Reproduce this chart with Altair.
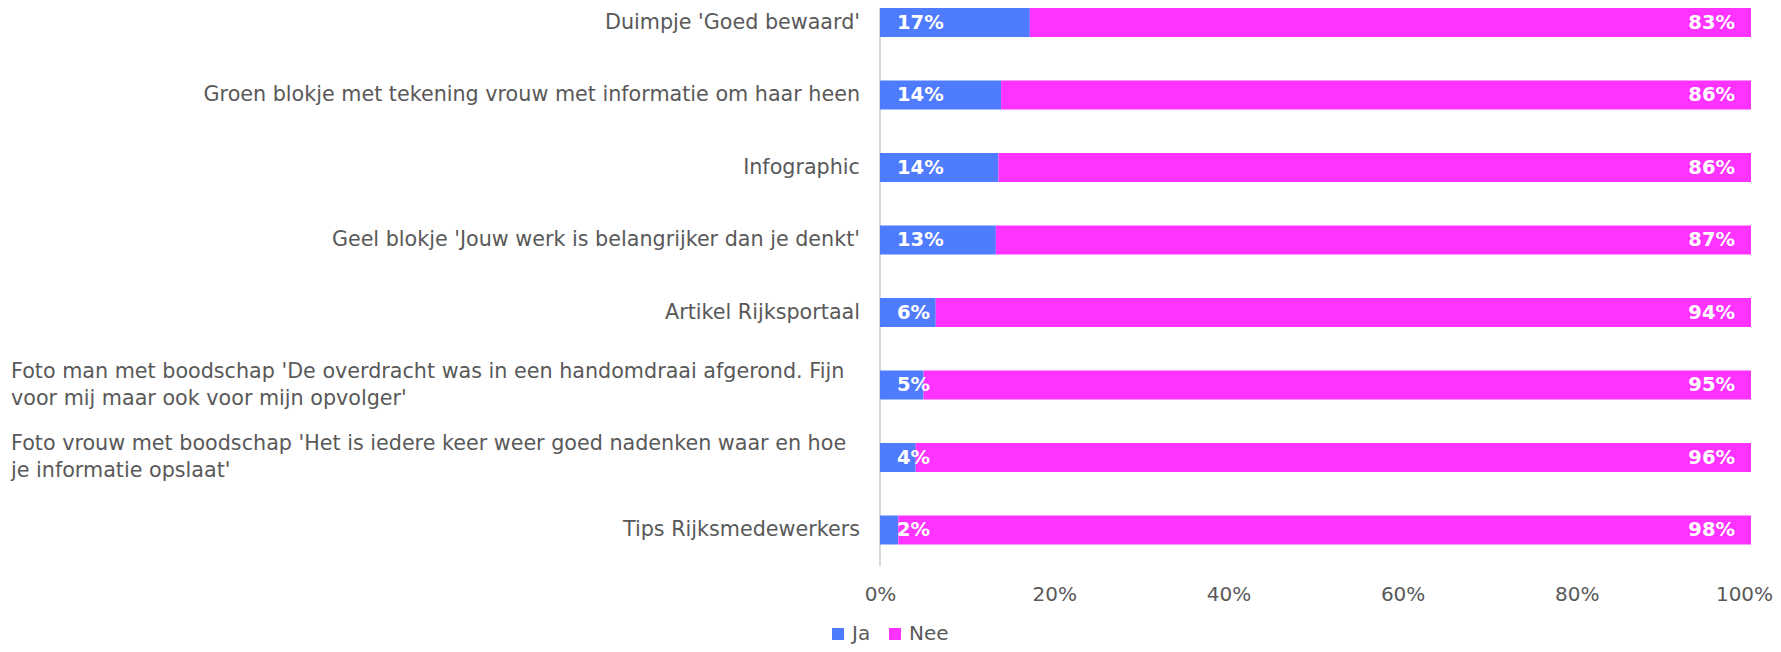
import altair as alt
import pandas as pd

categories = [
    "Duimpje 'Goed bewaard'",
    "Groen blokje met tekening vrouw met informatie om haar heen",
    "Infographic",
    "Geel blokje 'Jouw werk is belangrijker dan je denkt'",
    "Artikel Rijksportaal",
    "Foto man met boodschap 'De overdracht was in een handomdraai afgerond. Fijn|voor mij maar ook voor mijn opvolger'",
    "Foto vrouw met boodschap 'Het is iedere keer weer goed nadenken waar en hoe|je informatie opslaat'",
    "Tips Rijksmedewerkers",
]
ja_share = [17.2, 13.9, 13.6, 13.3, 6.4, 5.0, 4.1, 2.1]
nee_share = [82.8, 86.1, 86.4, 86.7, 93.6, 95.0, 95.9, 97.9]
ja_text = ["17%", "14%", "14%", "13%", "6%", "5%", "4%", "2%"]
nee_text = ["83%", "86%", "86%", "87%", "94%", "95%", "96%", "98%"]
series = ["Ja", "Nee"]
colors = ["#4F7BFF", "#FF33FF"]
x_ticks = [0, 20, 40, 60, 80, 100]

FONT = "DejaVu Sans"
GREY = "#595959"
CAT_SIZE = 20.7

rows = []
for i, c in enumerate(categories):
    rows.append({"cat": c, "series": "Ja", "value": ja_share[i], "ord": 0})
    rows.append({"cat": c, "series": "Nee", "value": nee_share[i], "ord": 1})
df = pd.DataFrame(rows)
wide = pd.DataFrame({"cat": categories, "ja_text": ja_text, "nee_text": nee_text})

yenc = alt.Y("cat:N", sort=categories, axis=None,
             scale=alt.Scale(paddingInner=0.6, paddingOuter=0))

bars = alt.Chart(df).mark_bar().encode(
    y=yenc,
    x=alt.X("value:Q", stack="zero",
            scale=alt.Scale(domain=[0, 100], nice=False),
            axis=alt.Axis(values=x_ticks, labelExpr="datum.value + '%'", grid=False,
                          ticks=False, domain=False, labelFontSize=20, labelColor=GREY,
                          labelFont=FONT, labelPadding=50, labelBaseline="middle",
                          labelFlush=False, labelOverlap=False, title=None,
                          labelOffset={"condition": {"test": "datum.value == 100", "value": -7},
                                       "value": 0})),
    color=alt.Color("series:N", scale=alt.Scale(domain=series, range=colors),
                    legend=alt.Legend(title=None, orient="none", legendX=-52, legendY=616,
                                      direction="horizontal", symbolType="square",
                                      symbolSize=144, symbolStrokeWidth=0,
                                      labelFontSize=20, labelColor=GREY, labelFont=FONT,
                                      columnPadding=14, labelOffset=4)),
    order=alt.Order("ord:Q"),
)

ja_labels = alt.Chart(wide).mark_text(
    align="left", baseline="middle", dx=17, color="white", fontWeight="bold",
    fontSize=19.5, font=FONT
).encode(y=yenc, x=alt.datum(0), text="ja_text:N")

nee_labels = alt.Chart(wide).mark_text(
    align="right", baseline="middle", dx=-16, color="white", fontWeight="bold",
    fontSize=19.5, font=FONT
).encode(y=yenc, x=alt.datum(100), text="nee_text:N")

single = alt.Chart(wide).transform_filter(
    "indexof(datum.cat, '|') < 0"
).mark_text(align="right", baseline="middle", fontSize=CAT_SIZE, color=GREY, font=FONT).encode(
    y=yenc, x=alt.value(-20), text="cat:N")

multi = alt.Chart(wide).transform_filter(
    "indexof(datum.cat, '|') >= 0"
).transform_calculate(lab="split(datum.cat, '|')").mark_text(
    align="left", baseline="middle", fontSize=CAT_SIZE, color=GREY, font=FONT,
    lineHeight=27, dy=-13.5
).encode(y=yenc, x=alt.value(-869), text="lab:N")

domain_rule = alt.Chart(pd.DataFrame({"a": [0]})).mark_rule(
    color="#D9D9D9", strokeWidth=2
).encode(x=alt.value(0), y=alt.value(0), y2=alt.value(558))

chart = alt.layer(domain_rule, bars, ja_labels, nee_labels, single, multi).properties(
    width=871, height=536.5,
    autosize=alt.AutoSizeParams(type="none"),
    padding={"left": 872, "top": 0, "right": 22, "bottom": 99},
    background="white",
).configure_view(stroke=None)

chart.save("out.html", embed_options={"renderer": "svg", "actions": False})
